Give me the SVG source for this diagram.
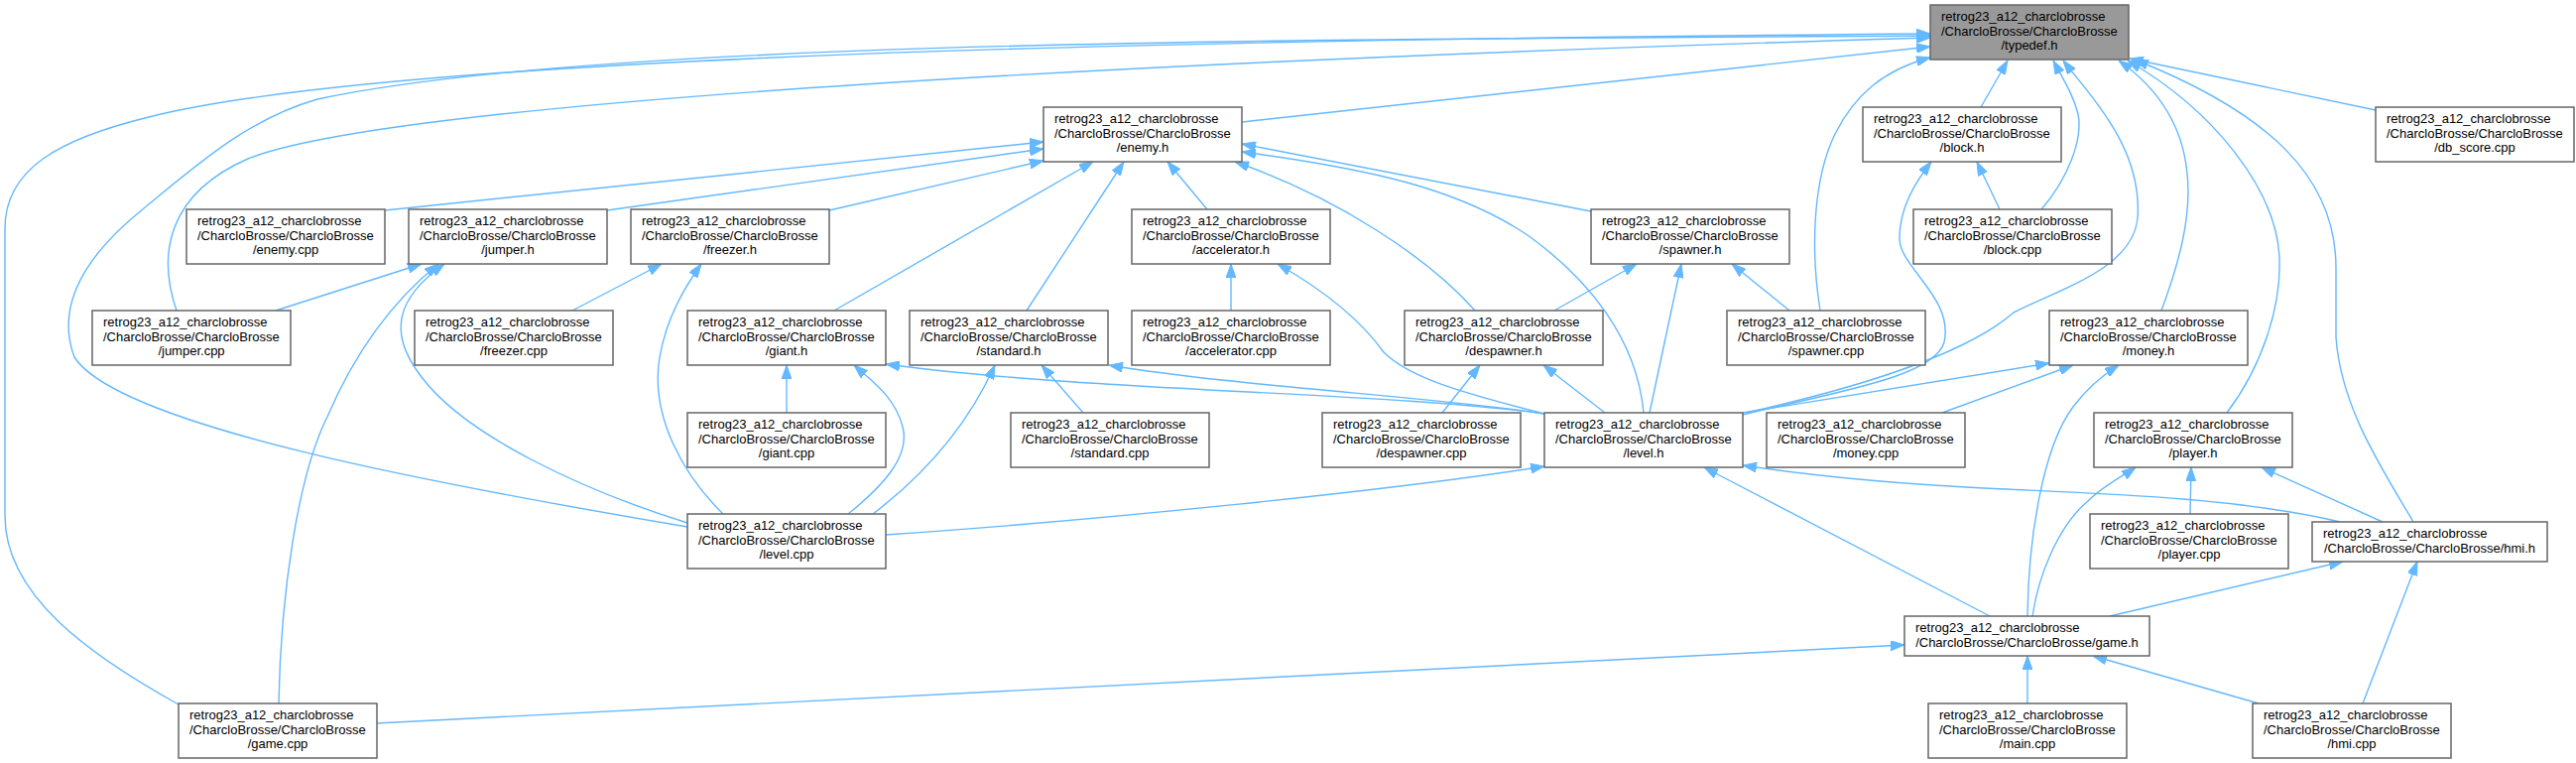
<svg xmlns="http://www.w3.org/2000/svg" width="2597" height="769" viewBox="0 0 2597 769">
<style>
.node rect{fill:#ffffff;stroke:#666666;stroke-width:1.5}
#n_typedef rect{fill:#999999}
.node text{font-family:"Liberation Sans",Arial,Helvetica,sans-serif;font-size:13px;fill:#000000}
.node text.c{text-anchor:middle}
.edge{fill:none;stroke:#63b8ff;stroke-width:1.4;marker-end:url(#arr)}
</style>
<defs>
<marker id="arr" markerUnits="userSpaceOnUse" viewBox="0 0 14 10" markerWidth="14" markerHeight="10" refX="14" refY="5" orient="auto">
<path d="M0,0 L14,5 L0,10 z" fill="#63b8ff" stroke="#63b8ff" stroke-width="1"/>
</marker>
</defs>
<rect width="2597" height="769" fill="#ffffff"/>
<g id="edges">
<path class="edge" d="M1252,123 L1946,47"/>
<path class="edge" d="M1835,313 C1825,250 1828,180 1850,135 C1870,95 1900,70 1946,58"/>
<path class="edge" d="M178,313 C158,255 170,195 250,160 C400,100 1200,60 1946,38"/>
<path class="edge" d="M693,531 C450,490 120,430 75,360 C60,320 70,270 145,210 C200,165 250,120 320,100 C600,40 1300,40 1946,36"/>
<path class="edge" d="M180,710 C90,660 5,600 5,520 L5,230 C5,170 60,140 150,118 C400,55 1200,40 1946,34"/>
<path class="edge" d="M1997,108 L2024,61"/>
<path class="edge" d="M2058,211 C2085,180 2100,140 2095,115 C2090,95 2080,80 2070,61"/>
<path class="edge" d="M1760,416 C1900,385 1990,350 2030,315 C2080,290 2150,270 2155,220 C2160,150 2110,100 2080,61"/>
<path class="edge" d="M2179,313 C2195,270 2210,220 2205,175 C2200,120 2170,85 2136,61"/>
<path class="edge" d="M2245,416 C2280,370 2300,310 2298,260 C2295,190 2230,110 2145,61"/>
<path class="edge" d="M2433,526 C2400,470 2360,410 2355,340 L2355,270 C2355,180 2290,115 2152,60"/>
<path class="edge" d="M2395,111 L2147,59"/>
<path class="edge" d="M388,212 L1052,143"/>
<path class="edge" d="M612,212 L1052,150"/>
<path class="edge" d="M836,212 L1052,162"/>
<path class="edge" d="M841,313 L1102,163"/>
<path class="edge" d="M1035,313 L1133,163"/>
<path class="edge" d="M1217,211 L1177,163"/>
<path class="edge" d="M1487,313 C1440,260 1350,200 1245,163"/>
<path class="edge" d="M1604,213 L1252,145"/>
<path class="edge" d="M1657,416 C1650,340 1600,280 1540,237 C1470,190 1380,170 1252,153"/>
<path class="edge" d="M278,313 L425,266"/>
<path class="edge" d="M281,709 C283,600 300,480 330,420 C360,350 400,300 442,266"/>
<path class="edge" d="M693,527 C590,495 470,440 425,380 C390,335 400,300 448,266"/>
<path class="edge" d="M577,313 L667,266"/>
<path class="edge" d="M729,518 C690,480 655,420 665,360 C672,320 690,290 707,266"/>
<path class="edge" d="M793,416 L793,368"/>
<path class="edge" d="M855,518 C890,490 918,460 910,430 C902,400 880,385 861,368"/>
<path class="edge" d="M1557,417 C1400,395 1100,395 893,367"/>
<path class="edge" d="M1557,417 C1450,400 1250,390 1118,368"/>
<path class="edge" d="M1092,416 L1050,368"/>
<path class="edge" d="M880,518 C930,480 975,430 1003,368"/>
<path class="edge" d="M1241,313 L1241,266"/>
<path class="edge" d="M1557,417 C1470,395 1420,380 1395,355 C1370,320 1330,290 1288,266"/>
<path class="edge" d="M1454,416 L1492,368"/>
<path class="edge" d="M1618,416 L1556,368"/>
<path class="edge" d="M1567,313 L1650,266"/>
<path class="edge" d="M1663,416 L1695,266"/>
<path class="edge" d="M1804,313 L1746,266"/>
<path class="edge" d="M2016,211 L1993,163"/>
<path class="edge" d="M1757,418 C1850,395 1950,380 1960,345 C1970,300 1915,270 1915,240 C1915,210 1930,185 1947,163"/>
<path class="edge" d="M1757,416 L2066,366"/>
<path class="edge" d="M1958,416 L2090,368"/>
<path class="edge" d="M2044,621 C2045,540 2060,450 2090,410 C2105,390 2120,378 2136,368"/>
<path class="edge" d="M2208,518 L2209,471"/>
<path class="edge" d="M2402,526 L2280,471"/>
<path class="edge" d="M2049,621 C2055,580 2075,530 2105,505 C2120,490 2140,480 2153,471"/>
<path class="edge" d="M893,539 C1100,525 1400,495 1557,470"/>
<path class="edge" d="M2359,526 C2250,500 2100,497 2000,492 C1900,487 1830,480 1757,469"/>
<path class="edge" d="M2006,621 L1718,471"/>
<path class="edge" d="M2127,621 L2362,566"/>
<path class="edge" d="M2382,709 L2437,566"/>
<path class="edge" d="M2044,709 L2044,661"/>
<path class="edge" d="M2277,709 L2110,661"/>
<path class="edge" d="M379,729 L1920,650"/>
</g>
<g id="n_typedef" class="node"><rect x="1946" y="5" width="200" height="55"/><text x="1957" y="21">retrog23_a12_charclobrosse</text><text x="1957" y="35.7">/CharcloBrosse/CharcloBrosse</text><text class="c" x="2046" y="50.3">/typedef.h</text></g>
<g id="n_enemy_h" class="node"><rect x="1052" y="108" width="200" height="55"/><text x="1063" y="124">retrog23_a12_charclobrosse</text><text x="1063" y="138.7">/CharcloBrosse/CharcloBrosse</text><text class="c" x="1152" y="153.3">/enemy.h</text></g>
<g id="n_block_h" class="node"><rect x="1878" y="108" width="200" height="55"/><text x="1889" y="124">retrog23_a12_charclobrosse</text><text x="1889" y="138.7">/CharcloBrosse/CharcloBrosse</text><text class="c" x="1978" y="153.3">/block.h</text></g>
<g id="n_db_score" class="node"><rect x="2395" y="108" width="200" height="55"/><text x="2406" y="124">retrog23_a12_charclobrosse</text><text x="2406" y="138.7">/CharcloBrosse/CharcloBrosse</text><text class="c" x="2495" y="153.3">/db_score.cpp</text></g>
<g id="n_enemy_cpp" class="node"><rect x="188" y="211" width="200" height="55"/><text x="199" y="227">retrog23_a12_charclobrosse</text><text x="199" y="241.7">/CharcloBrosse/CharcloBrosse</text><text class="c" x="288" y="256.3">/enemy.cpp</text></g>
<g id="n_jumper_h" class="node"><rect x="412" y="211" width="200" height="55"/><text x="423" y="227">retrog23_a12_charclobrosse</text><text x="423" y="241.7">/CharcloBrosse/CharcloBrosse</text><text class="c" x="512" y="256.3">/jumper.h</text></g>
<g id="n_freezer_h" class="node"><rect x="636" y="211" width="200" height="55"/><text x="647" y="227">retrog23_a12_charclobrosse</text><text x="647" y="241.7">/CharcloBrosse/CharcloBrosse</text><text class="c" x="736" y="256.3">/freezer.h</text></g>
<g id="n_accelerator_h" class="node"><rect x="1141" y="211" width="200" height="55"/><text x="1152" y="227">retrog23_a12_charclobrosse</text><text x="1152" y="241.7">/CharcloBrosse/CharcloBrosse</text><text class="c" x="1241" y="256.3">/accelerator.h</text></g>
<g id="n_spawner_h" class="node"><rect x="1604" y="211" width="200" height="55"/><text x="1615" y="227">retrog23_a12_charclobrosse</text><text x="1615" y="241.7">/CharcloBrosse/CharcloBrosse</text><text class="c" x="1704" y="256.3">/spawner.h</text></g>
<g id="n_block_cpp" class="node"><rect x="1929" y="211" width="200" height="55"/><text x="1940" y="227">retrog23_a12_charclobrosse</text><text x="1940" y="241.7">/CharcloBrosse/CharcloBrosse</text><text class="c" x="2029" y="256.3">/block.cpp</text></g>
<g id="n_jumper_cpp" class="node"><rect x="93" y="313" width="200" height="55"/><text x="104" y="329">retrog23_a12_charclobrosse</text><text x="104" y="343.7">/CharcloBrosse/CharcloBrosse</text><text class="c" x="193" y="358.3">/jumper.cpp</text></g>
<g id="n_freezer_cpp" class="node"><rect x="418" y="313" width="200" height="55"/><text x="429" y="329">retrog23_a12_charclobrosse</text><text x="429" y="343.7">/CharcloBrosse/CharcloBrosse</text><text class="c" x="518" y="358.3">/freezer.cpp</text></g>
<g id="n_giant_h" class="node"><rect x="693" y="313" width="200" height="55"/><text x="704" y="329">retrog23_a12_charclobrosse</text><text x="704" y="343.7">/CharcloBrosse/CharcloBrosse</text><text class="c" x="793" y="358.3">/giant.h</text></g>
<g id="n_standard_h" class="node"><rect x="917" y="313" width="200" height="55"/><text x="928" y="329">retrog23_a12_charclobrosse</text><text x="928" y="343.7">/CharcloBrosse/CharcloBrosse</text><text class="c" x="1017" y="358.3">/standard.h</text></g>
<g id="n_accelerator_cpp" class="node"><rect x="1141" y="313" width="200" height="55"/><text x="1152" y="329">retrog23_a12_charclobrosse</text><text x="1152" y="343.7">/CharcloBrosse/CharcloBrosse</text><text class="c" x="1241" y="358.3">/accelerator.cpp</text></g>
<g id="n_despawner_h" class="node"><rect x="1416" y="313" width="200" height="55"/><text x="1427" y="329">retrog23_a12_charclobrosse</text><text x="1427" y="343.7">/CharcloBrosse/CharcloBrosse</text><text class="c" x="1516" y="358.3">/despawner.h</text></g>
<g id="n_spawner_cpp" class="node"><rect x="1741" y="313" width="200" height="55"/><text x="1752" y="329">retrog23_a12_charclobrosse</text><text x="1752" y="343.7">/CharcloBrosse/CharcloBrosse</text><text class="c" x="1841" y="358.3">/spawner.cpp</text></g>
<g id="n_money_h" class="node"><rect x="2066" y="313" width="200" height="55"/><text x="2077" y="329">retrog23_a12_charclobrosse</text><text x="2077" y="343.7">/CharcloBrosse/CharcloBrosse</text><text class="c" x="2166" y="358.3">/money.h</text></g>
<g id="n_giant_cpp" class="node"><rect x="693" y="416" width="200" height="55"/><text x="704" y="432">retrog23_a12_charclobrosse</text><text x="704" y="446.7">/CharcloBrosse/CharcloBrosse</text><text class="c" x="793" y="461.3">/giant.cpp</text></g>
<g id="n_standard_cpp" class="node"><rect x="1019" y="416" width="200" height="55"/><text x="1030" y="432">retrog23_a12_charclobrosse</text><text x="1030" y="446.7">/CharcloBrosse/CharcloBrosse</text><text class="c" x="1119" y="461.3">/standard.cpp</text></g>
<g id="n_despawner_cpp" class="node"><rect x="1333" y="416" width="200" height="55"/><text x="1344" y="432">retrog23_a12_charclobrosse</text><text x="1344" y="446.7">/CharcloBrosse/CharcloBrosse</text><text class="c" x="1433" y="461.3">/despawner.cpp</text></g>
<g id="n_level_h" class="node"><rect x="1557" y="416" width="200" height="55"/><text x="1568" y="432">retrog23_a12_charclobrosse</text><text x="1568" y="446.7">/CharcloBrosse/CharcloBrosse</text><text class="c" x="1657" y="461.3">/level.h</text></g>
<g id="n_money_cpp" class="node"><rect x="1781" y="416" width="200" height="55"/><text x="1792" y="432">retrog23_a12_charclobrosse</text><text x="1792" y="446.7">/CharcloBrosse/CharcloBrosse</text><text class="c" x="1881" y="461.3">/money.cpp</text></g>
<g id="n_player_h" class="node"><rect x="2111" y="416" width="200" height="55"/><text x="2122" y="432">retrog23_a12_charclobrosse</text><text x="2122" y="446.7">/CharcloBrosse/CharcloBrosse</text><text class="c" x="2211" y="461.3">/player.h</text></g>
<g id="n_level_cpp" class="node"><rect x="693" y="518" width="200" height="55"/><text x="704" y="534">retrog23_a12_charclobrosse</text><text x="704" y="548.7">/CharcloBrosse/CharcloBrosse</text><text class="c" x="793" y="563.3">/level.cpp</text></g>
<g id="n_player_cpp" class="node"><rect x="2107" y="518" width="200" height="55"/><text x="2118" y="534">retrog23_a12_charclobrosse</text><text x="2118" y="548.7">/CharcloBrosse/CharcloBrosse</text><text class="c" x="2207" y="563.3">/player.cpp</text></g>
<g id="n_hmi_h" class="node"><rect x="2331" y="526" width="237" height="40"/><text x="2342" y="542">retrog23_a12_charclobrosse</text><text class="c" x="2449.5" y="556.7">/CharcloBrosse/CharcloBrosse/hmi.h</text></g>
<g id="n_game_h" class="node"><rect x="1920" y="621" width="247" height="40"/><text x="1931" y="637">retrog23_a12_charclobrosse</text><text class="c" x="2043.5" y="651.7">/CharcloBrosse/CharcloBrosse/game.h</text></g>
<g id="n_game_cpp" class="node"><rect x="180" y="709" width="200" height="55"/><text x="191" y="725">retrog23_a12_charclobrosse</text><text x="191" y="739.7">/CharcloBrosse/CharcloBrosse</text><text class="c" x="280" y="754.3">/game.cpp</text></g>
<g id="n_main_cpp" class="node"><rect x="1944" y="709" width="200" height="55"/><text x="1955" y="725">retrog23_a12_charclobrosse</text><text x="1955" y="739.7">/CharcloBrosse/CharcloBrosse</text><text class="c" x="2044" y="754.3">/main.cpp</text></g>
<g id="n_hmi_cpp" class="node"><rect x="2271" y="709" width="200" height="55"/><text x="2282" y="725">retrog23_a12_charclobrosse</text><text x="2282" y="739.7">/CharcloBrosse/CharcloBrosse</text><text class="c" x="2371" y="754.3">/hmi.cpp</text></g>
</svg>
